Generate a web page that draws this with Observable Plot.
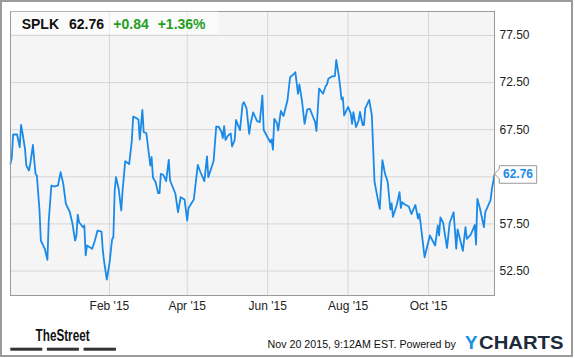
<!DOCTYPE html>
<html><head><meta charset="utf-8">
<script src="https://cdn.jsdelivr.net/npm/d3@7"></script>
<script src="https://cdn.jsdelivr.net/npm/@observablehq/plot@0.6"></script>
<style>
html,body{margin:0;padding:0;background:#fff;}
#wrap{position:relative;width:575px;height:358px;overflow:hidden;}
#frame{position:absolute;left:0;top:0;width:573px;height:357px;box-sizing:border-box;border:2px solid #9b9b9b;pointer-events:none;}
</style></head>
<body><div id="wrap"><div id="frame"></div></div>
<script>
(function(){
const ticker = "SPLK", lastLabel = "62.76", change = "+0.84", changePct = "+1.36%";
const stamp = "Nov 20 2015, 9:12AM EST. Powered by";

const dates = [
 "2014-11-18","2014-11-19","2014-11-20","2014-11-23","2014-11-25","2014-11-26","2014-11-27","2014-11-29","2014-11-30",
 "2014-12-02","2014-12-03","2014-12-05","2014-12-06","2014-12-07","2014-12-08","2014-12-10","2014-12-11","2014-12-14","2014-12-16","2014-12-17","2014-12-19","2014-12-21","2014-12-24","2014-12-26","2014-12-28","2014-12-30",
 "2015-01-02","2015-01-04","2015-01-06","2015-01-07","2015-01-08","2015-01-09","2015-01-12","2015-01-13","2015-01-14","2015-01-15","2015-01-19","2015-01-21","2015-01-23","2015-01-26","2015-01-27","2015-01-28","2015-01-30",
 "2015-02-01","2015-02-03","2015-02-04","2015-02-05","2015-02-06","2015-02-08","2015-02-10","2015-02-11","2015-02-13","2015-02-16","2015-02-18","2015-02-19","2015-02-21","2015-02-23","2015-02-24","2015-02-26","2015-02-27",
 "2015-03-01","2015-03-04","2015-03-05","2015-03-06","2015-03-08","2015-03-10","2015-03-11","2015-03-12","2015-03-14","2015-03-16","2015-03-18","2015-03-19","2015-03-23","2015-03-25","2015-03-27","2015-03-30",
 "2015-04-01","2015-04-02","2015-04-06","2015-04-09","2015-04-11","2015-04-14","2015-04-16","2015-04-17","2015-04-21","2015-04-23","2015-04-25","2015-04-27","2015-04-28","2015-04-29","2015-04-30",
 "2015-05-02","2015-05-04","2015-05-05","2015-05-07","2015-05-08","2015-05-11","2015-05-13","2015-05-14","2015-05-16","2015-05-18","2015-05-19","2015-05-21","2015-05-24","2015-05-26","2015-05-28","2015-05-29",
 "2015-06-01","2015-06-03","2015-06-04","2015-06-05","2015-06-06","2015-06-08","2015-06-09","2015-06-11","2015-06-13","2015-06-16","2015-06-18","2015-06-21","2015-06-22","2015-06-24","2015-06-25","2015-06-27","2015-06-29",
 "2015-07-01","2015-07-03","2015-07-05","2015-07-07","2015-07-08","2015-07-10","2015-07-12","2015-07-13","2015-07-15","2015-07-16","2015-07-17","2015-07-20","2015-07-22","2015-07-23","2015-07-25","2015-07-26","2015-07-27","2015-07-28","2015-07-29",
 "2015-08-01","2015-08-03","2015-08-04","2015-08-05","2015-08-07","2015-08-09","2015-08-10","2015-08-12","2015-08-13","2015-08-14","2015-08-17","2015-08-19","2015-08-20","2015-08-21","2015-08-23","2015-08-25","2015-08-27","2015-08-29","2015-08-31",
 "2015-09-02","2015-09-03","2015-09-04","2015-09-07","2015-09-09","2015-09-10","2015-09-11","2015-09-13","2015-09-16","2015-09-18","2015-09-21","2015-09-23","2015-09-24","2015-09-25","2015-09-28",
 "2015-10-02","2015-10-06","2015-10-08","2015-10-09","2015-10-10","2015-10-12","2015-10-15","2015-10-17","2015-10-20","2015-10-22","2015-10-23","2015-10-27","2015-10-29","2015-10-30",
 "2015-11-02","2015-11-05","2015-11-06","2015-11-07","2015-11-09","2015-11-12","2015-11-13","2015-11-17","2015-11-18","2015-11-19","2015-11-20"
];
const prices = [
 63.88,64.58,66.99,66.99,65.64,68.02,67.23,65.47,63.70,
 63.17,63.88,65.90,64.23,62.82,62.64,58.92,55.74,54.86,53.69,57.86,61.58,61.47,61.58,62.99,61.76,59.63,
 58.74,57.51,55.74,56.27,58.47,57.68,57.15,57.33,54.15,55.21,54.86,55.74,56.80,56.69,54.68,53.51,51.60,
 53.26,55.84,56.09,61.05,62.46,61.26,58.92,61.05,64.16,63.86,66.35,68.90,68.76,68.58,66.46,69.61,67.23,
 67.15,63.70,64.60,62.43,61.95,60.76,60.76,62.82,62.69,62.05,64.30,62.11,60.73,58.74,60.33,60.09,
 57.86,59.19,60.09,63.77,63.01,62.05,64.66,62.46,64.18,67.84,67.79,67.26,66.62,67.89,66.41,
 66.88,67.10,65.72,66.41,68.53,67.45,70.23,70.42,69.75,67.06,68.11,69.33,68.42,68.30,71.13,67.47,
 66.67,66.17,66.46,65.38,68.66,68.19,67.42,69.49,68.95,70.60,73.07,73.43,73.60,71.31,72.30,70.60,68.13,
 69.67,69.72,69.01,68.30,67.36,71.87,71.50,71.31,72.14,72.30,72.90,73.17,73.20,74.90,73.20,72.01,70.73,70.92,69.01,
 69.93,69.22,68.13,69.36,67.77,68.48,69.40,68.00,68.00,69.77,70.67,69.01,65.50,62.00,60.51,59.10,64.26,62.82,61.98,
 59.03,59.67,58.25,59.56,60.87,59.19,59.82,59.56,59.35,58.55,59.51,58.07,58.57,57.54,53.96,
 56.27,55.21,57.33,56.27,58.18,57.65,54.94,57.60,58.74,54.86,56.93,54.64,57.15,55.92,
 56.37,57.38,55.31,60.16,59.13,57.15,58.74,60.02,61.20,61.92,62.76
];
const xTicks = ["2015-02-01","2015-04-01","2015-06-01","2015-08-01","2015-10-01"];
const xLabels = ["Feb '15","Apr '15","Jun '15","Aug '15","Oct '15"];
const yTicks = [52.5, 57.5, 62.5, 67.5, 72.5, 77.5];
// the 62.50 label sits under the last-price tag in the reference
const yLabelTicks = [52.5, 57.5, 67.5, 72.5, 77.5];

const font = "'Liberation Sans', Arial, sans-serif";
const data = dates.map((d, i) => ({date: new Date(d), price: prices[i]}));
const xTickDates = xTicks.map(d => new Date(d));
const labelOf = new Map(xTickDates.map((d, i) => [+d, xLabels[i]]));
const blue = "#1a8ae8";

const plot = Plot.plot({
  width: 575, height: 358,
  marginLeft: 10, marginRight: 81, marginTop: 11, marginBottom: 63,
  style: {fontFamily: font, fontSize: "12px", color: "#222", background: "transparent", overflow: "visible"},
  x: {type: "utc", domain: [data[0].date, data[data.length - 1].date]},
  y: {domain: [49.9, 80.05]},
  marks: [
    Plot.frame({fill: "#f5f5f5", stroke: "none"}),
    Plot.gridX(xTickDates, {stroke: "#d6d6d6", strokeOpacity: 1}),
    Plot.gridY(yTicks, {stroke: "#d6d6d6", strokeOpacity: 1}),
    Plot.lineY(data, {x: "date", y: "price", stroke: blue, strokeWidth: 1.8}),
    Plot.frame({stroke: "#9a9a9a"}),
    Plot.axisY(yLabelTicks, {anchor: "right", tickSize: 0, tickPadding: 5, tickFormat: d => d.toFixed(2), label: null, fill: "#222"}),
    Plot.axisX(xTickDates, {anchor: "bottom", tickSize: 0, tickPadding: 6, tickFormat: d => labelOf.get(+d), label: null, fill: "#222"})
  ]
});
document.getElementById("wrap").prepend(plot);

const svg = d3.select(plot);
const txt = (x, y, s) => svg.append("text").attr("x", x).attr("y", y).attr("text-anchor", "start").attr("font-family", font).text(s);

svg.append("rect").attr("x", 11).attr("y", 11.5).attr("width", 207).attr("height", 22.5).attr("fill", "rgba(255,255,255,0.55)");
const hdr = [[ticker, 21.7, "#111"], [lastLabel, 69, "#111"], [change, 113.3, "#1f9e1f"], [changePct, 157.7, "#1f9e1f"]];
hdr.forEach(([t, x, c]) => txt(x, 28.5, t).attr("fill", c).attr("font-size", 14).attr("font-weight", "bold"));

const last = data[data.length - 1];
const px = plot.scale("x").apply(last.date), py = plot.scale("y").apply(last.price);
const bx = px + 5.3, bw = 37.4, bTop = py - 8.2, bh = 17.6;
svg.append("path")
  .attr("d", `M${px + 0.5},${py} L${bx},${py - 5} L${bx},${bTop} L${bx + bw},${bTop} L${bx + bw},${bTop + bh} L${bx},${bTop + bh} L${bx},${py + 5} Z`)
  .attr("fill", "#fff").attr("stroke", "#999").attr("stroke-width", 1);
txt(bx + bw / 2, py + 4.3, lastLabel).attr("text-anchor", "middle")
  .attr("fill", blue).attr("font-size", 12).attr("font-weight", "bold");

txt(35.6, 341, "TheStreet").attr("font-size", 16).attr("font-weight", "bold")
  .attr("fill", "#111").attr("textLength", 54).attr("lengthAdjust", "spacingAndGlyphs");
[[10.3, 32], [46.9, 32], [83.6, 32.3]].forEach(([x, w]) =>
  svg.append("rect").attr("x", x).attr("y", 347.7).attr("width", w).attr("height", 3).attr("fill", "#333"));
txt(267.5, 348.3, stamp).attr("font-size", 10.7).attr("fill", "#111");
txt(465, 348.5, "Y").attr("font-size", 18.5).attr("font-weight", "bold")
  .attr("fill", "#1a8fe3").attr("textLength", 12.5).attr("lengthAdjust", "spacingAndGlyphs");
txt(479, 348.5, "CHARTS").attr("font-size", 18.5).attr("font-weight", "bold")
  .attr("fill", "#1c2a3a").attr("textLength", 84.5).attr("lengthAdjust", "spacingAndGlyphs");
})();
</script>
</body></html>
